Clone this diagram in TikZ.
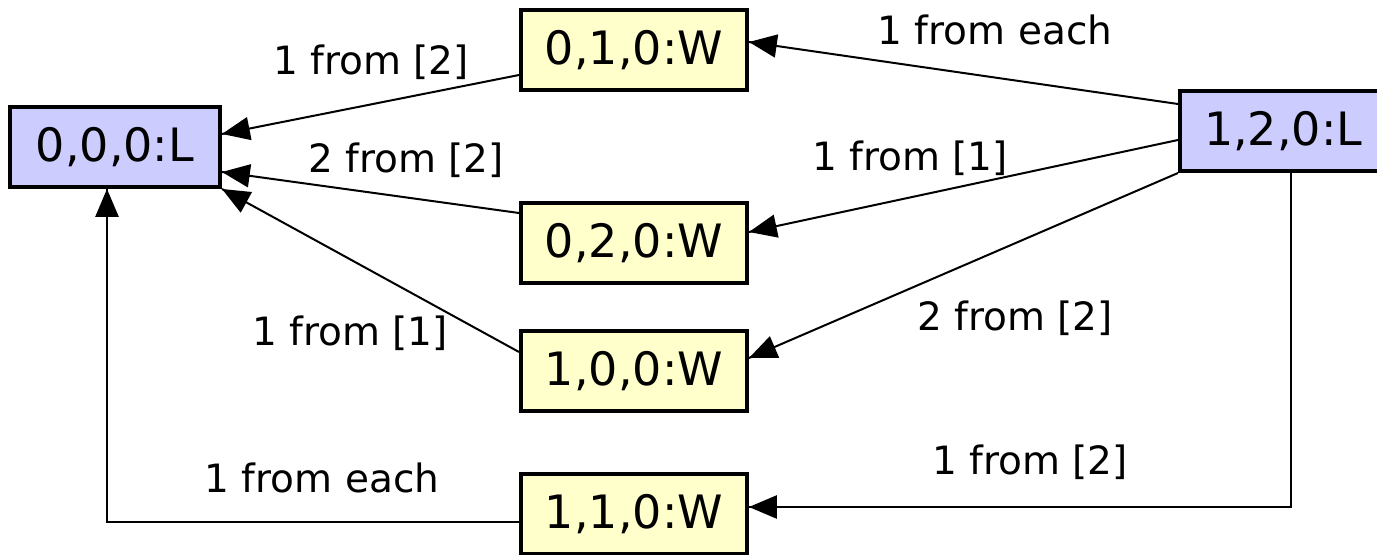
\documentclass[tikz,border=0pt]{standalone}
\usepackage{fontspec}
\setmainfont{DejaVu Sans}
\usetikzlibrary{arrows}
\usetikzlibrary{decorations.markings}
\definecolor{losefill}{RGB}{204,204,255}
\definecolor{winfill}{RGB}{255,255,204}
\tikzset{->/.style = {decoration={markings,
                                  mark=at position 1 with {\arrow[scale=1.6]{triangle 45}}},
                      postaction={decorate}}}
\tikzset{losebox/.style = {draw, line width=2pt, fill=losefill,
                           font=\fontsize{23}{26}\selectfont,
                           minimum width=105pt, minimum height=40pt},
         winbox/.style = {draw, line width=2pt, fill=winfill,
                          font=\fontsize{23}{26}\selectfont,
                          minimum width=113pt, minimum height=40pt},
         movetext/.style = {font=\fontsize{19.5}{22}\selectfont}}

\begin{document}
\begin{tikzpicture}[x=0.5pt, y=-0.5pt, line width=1pt]
    \clip (0, 0) rectangle (1377, 555);
    % positions
    \node [losebox] (L000) at (115, 147) {0,0,0:L};
    \node [losebox, anchor=west, text width=150pt, align=left, inner xsep=12pt]
      (L120) at (1178, 131) {1,2,0:L};
    \node [winbox] (W010) at (634, 50) {0,1,0:W};
    \node [winbox] (W020) at (634, 243) {0,2,0:W};
    \node [winbox] (W100) at (634, 371) {1,0,0:W};
    \node [winbox] (W110) at (634, 514) {1,1,0:W};
    % moves into 0,0,0:L
    \draw [->] (W010.west |- 0, 75) -- (L000.east |- 0, 134);
    \draw [->] (W020.west |- 0, 213) -- (L000.east |- 0, 172);
    \draw [->] (W100.west |- 0, 352) -- (L000.south east);
    \coordinate (bend1) at (107, 522);
    \draw [->] (W110.west |- bend1) -- (bend1) -- (bend1 |- L000.south);
    % moves out of 1,2,0:L
    \draw [->] (L120.west |- 0, 104) -- (W010.east |- 0, 42);
    \draw [->] (L120.west |- 0, 140) -- (W020.east |- 0, 232);
    \draw [->] (L120.south west) -- (W100.east |- 0, 358);
    \coordinate (bend2) at (1291, 507);
    \draw [->] (bend2 |- L120.south) -- (bend2) -- (W110.east |- bend2);
    % labels
    \node [movetext] (t1) at (371, 62) {1 from [2]};
    \node [movetext] (t2) at (406, 160) {2 from [2]};
    \node [movetext] (t3) at (350, 333) {1 from [1]};
    \node [movetext] (t4) at (322, 478) {1 from each};
    \node [movetext] (t5) at (995, 30) {1 from each};
    \node [movetext] (t6) at (910, 158) {1 from [1]};
    \node [movetext] (t7) at (1015, 318) {2 from [2]};
    \node [movetext] (t8) at (1030, 462) {1 from [2]};
  \end{tikzpicture}
\end{document}
